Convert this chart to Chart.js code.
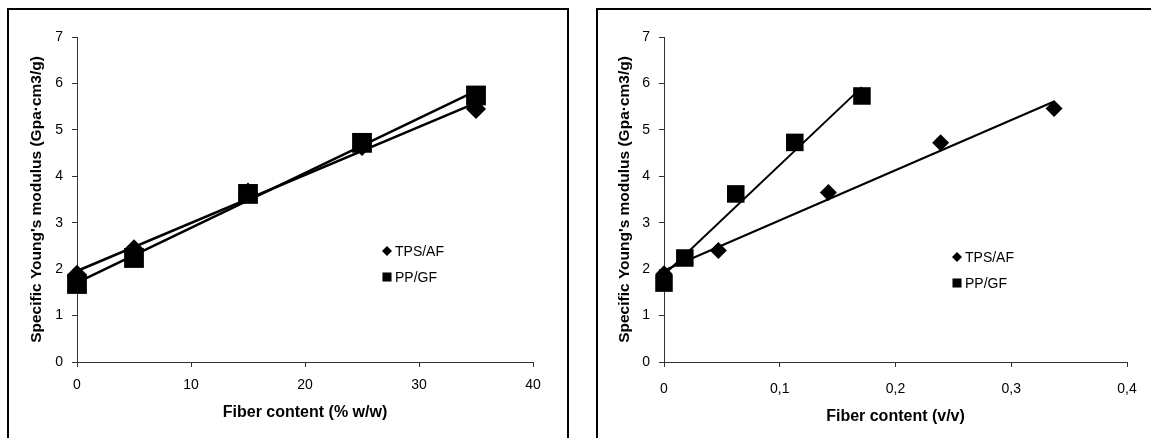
<!DOCTYPE html>
<html>
<head>
<meta charset="utf-8">
<script src="https://cdn.jsdelivr.net/npm/chart.js@4.4.1/dist/chart.umd.min.js"></script>
<style>
  body { margin: 0; width: 1151px; height: 438px; overflow: hidden; background: #fff; position: relative; }
  .box { position: absolute; border: 2px solid #000; background: #fff; }
  #boxA { left: 7px; top: 8px; width: 558px; height: 440px; }
  #boxB { left: 596px; top: 8px; width: 600px; height: 440px; }
  .box canvas { position: absolute; left: 0; top: 0; }
</style>
</head>
<body>
<div class="box" id="boxA"><canvas id="chartWeight" width="558" height="430"></canvas></div>
<div class="box" id="boxB"><canvas id="chartVolume" width="553" height="430"></canvas></div>

<script>
// weight fraction chart (left)
const tpsWeightX = [0, 5, 15, 25, 35];
const tpsWeightY = [1.88, 2.43, 3.65, 4.65, 5.45];
const ppWeightX = [0, 5, 15, 25, 35];
const ppWeightY = [1.68, 2.24, 3.62, 4.72, 5.74];
// trendline end points
const tpsWeightFitX = [0, 35];
const tpsWeightFitY = [1.96, 5.58];
const ppWeightFitX = [0, 35];
const ppWeightFitY = [1.71, 5.84];

// volume fraction chart (right)
const tpsVolX = [0, 0.047, 0.142, 0.239, 0.337];
const tpsVolY = [1.9, 2.4, 3.65, 4.72, 5.46];
const ppVolX = [0, 0.018, 0.062, 0.113, 0.171];
const ppVolY = [1.7, 2.24, 3.62, 4.73, 5.73];
const tpsVolFitX = [0, 0.337];
const tpsVolFitY = [1.97, 5.61];
const ppVolFitX = [0, 0.171];
const ppVolFitY = [1.88, 5.92];

// axis ticks
const yTicks = [0, 1, 2, 3, 4, 5, 6, 7];
const yTickLabels = ['0', '1', '2', '3', '4', '5', '6', '7'];
const xWeightTicks = [0, 10, 20, 30, 40];
const xWeightLabels = ['0', '10', '20', '30', '40'];
const xVolTicks = [0, 0.1, 0.2, 0.3, 0.4];
const xVolLabels = ['0', '0,1', '0,2', '0,3', '0,4'];

const seriesNames = ['TPS/AF', 'PP/GF'];
const yTitle = "Specific Young's modulus (Gpa·cm3/g)";

const FONT = "'Liberation Sans', Arial, sans-serif";

function toPoints(xs, ys) {
    return xs.map((x, i) => ({ x: x, y: ys[i] }));
}

// draws the small legend inside the plot like the original
const legendMarks = {
    id: 'legendMarks',
    afterDraw(chart, args, opts) {
        const ctx = chart.ctx;
        ctx.save();
        ctx.fillStyle = '#000';
        ctx.font = '14px ' + FONT;
        ctx.textBaseline = 'middle';
        opts.items.forEach((item, i) => {
            const y = opts.y + i * opts.step;
            Chart.helpers.drawPoint(ctx, { pointStyle: item.style, radius: item.radius, rotation: 0, borderWidth: 0 }, opts.x, y);
            ctx.fillText(item.text, opts.x + 8, y + 1);
        });
        ctx.restore();
    }
};

function makeChart(id, cfg) {
    const ctx = document.getElementById(id).getContext('2d');
    return new Chart(ctx, {
        type: 'scatter',
        data: {
            datasets: [
                {
                    label: seriesNames[0],
                    data: toPoints(cfg.tpsX, cfg.tpsY),
                    pointStyle: 'rectRot',
                    pointRadius: cfg.diamond,
                    backgroundColor: '#000',
                    borderWidth: 0,
                    clip: false
                },
                {
                    label: seriesNames[1],
                    data: toPoints(cfg.ppX, cfg.ppY),
                    pointStyle: 'rect',
                    pointRadius: cfg.square,
                    backgroundColor: '#000',
                    borderWidth: 0,
                    clip: false
                },
                {
                    label: 'fit1',
                    data: toPoints(cfg.tpsFitX, cfg.tpsFitY),
                    showLine: true,
                    pointRadius: 0,
                    borderColor: '#000',
                    borderWidth: cfg.lineWidth,
                    clip: false
                },
                {
                    label: 'fit2',
                    data: toPoints(cfg.ppFitX, cfg.ppFitY),
                    showLine: true,
                    pointRadius: 0,
                    borderColor: '#000',
                    borderWidth: cfg.lineWidth,
                    clip: false
                }
            ]
        },
        options: {
            responsive: false,
            animation: false,
            events: [],
            layout: { padding: cfg.padding },
            plugins: {
                legend: { display: false },
                tooltip: { enabled: false },
                legendMarks: {
                    x: cfg.legendX, y: cfg.legendY, step: 26,
                    items: [
                        { text: seriesNames[0], style: 'rectRot', radius: 5 },
                        { text: seriesNames[1], style: 'rect', radius: 6.4 }
                    ]
                }
            },
            scales: {
                x: {
                    type: 'linear',
                    min: cfg.xTicks[0],
                    max: cfg.xTicks[cfg.xTicks.length - 1],
                    afterBuildTicks: s => { s.ticks = cfg.xTicks.map(v => ({ value: v })); },
                    afterFit: s => { s.height = 78; },
                    border: { display: true, color: '#333', width: 1 },
                    grid: { drawOnChartArea: false, drawTicks: true, tickLength: 5, color: '#333' },
                    ticks: {
                        color: '#000',
                        padding: cfg.xTickPad,
                        maxRotation: 0,
                        font: { family: FONT, size: 14 },
                        callback: (v, i) => cfg.xLabels[i]
                    },
                    title: {
                        display: true,
                        text: cfg.xTitle,
                        color: '#000',
                        font: { family: FONT, size: 16, weight: 'bold' },
                        padding: { top: 0, bottom: cfg.xTitlePad }
                    }
                },
                y: {
                    type: 'linear',
                    min: 0,
                    max: 7,
                    afterBuildTicks: s => { s.ticks = yTicks.map(v => ({ value: v })); },
                    afterFit: s => { s.width = cfg.yWidth; },
                    border: { display: true, color: '#333', width: 1 },
                    grid: { drawOnChartArea: false, drawTicks: true, tickLength: 5, color: '#333' },
                    ticks: {
                        color: '#000',
                        padding: 9,
                        font: { family: FONT, size: 14 },
                        callback: (v, i) => yTickLabels[i]
                    },
                    title: {
                        display: true,
                        text: yTitle,
                        color: '#000',
                        font: { family: FONT, size: 15.5, weight: 'bold' },
                        padding: { top: cfg.yTitlePad, bottom: 0 }
                    }
                }
            }
        },
        plugins: [legendMarks]
    });
}

makeChart('chartWeight', {
    tpsX: tpsWeightX, tpsY: tpsWeightY, ppX: ppWeightX, ppY: ppWeightY,
    tpsFitX: tpsWeightFitX, tpsFitY: tpsWeightFitY, ppFitX: ppWeightFitX, ppFitY: ppWeightFitY,
    diamond: 10, square: 14, lineWidth: 2.5,
    xTicks: xWeightTicks, xLabels: xWeightLabels,
    xTitle: 'Fiber content (% w/w)',
    padding: { left: 0, top: 27, right: 34, bottom: 0 },
    yWidth: 68, yTitlePad: 18.7, xTickPad: 10, xTitlePad: 17.4,
    legendX: 378, legendY: 241
});

makeChart('chartVolume', {
    tpsX: tpsVolX, tpsY: tpsVolY, ppX: ppVolX, ppY: ppVolY,
    tpsFitX: tpsVolFitX, tpsFitY: tpsVolFitY, ppFitX: ppVolFitX, ppFitY: ppVolFitY,
    diamond: 8.5, square: 12.4, lineWidth: 2,
    xTicks: xVolTicks, xLabels: xVolLabels,
    xTitle: 'Fiber content (v/v)',
    padding: { left: 0, top: 27, right: 24, bottom: 0 },
    yWidth: 66, yTitlePad: 17.7, xTickPad: 14, xTitlePad: 13.4,
    legendX: 359, legendY: 247
});
</script>
</body>
</html>
